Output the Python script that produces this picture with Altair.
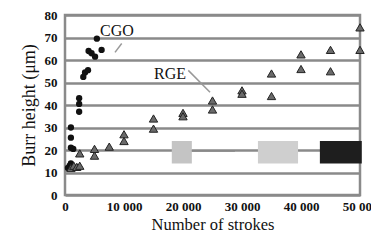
import altair as alt
import pandas as pd

# CGO (circles)
cgo_x = [500, 800, 1000, 1000, 1000, 1000, 1200, 1400, 2400, 2400, 2400, 3100, 3400, 3900, 4000, 4500, 5100, 5400, 6200]
cgo_y = [12, 13, 30, 25.5, 21, 14, 12, 20.5, 43, 40.5, 37, 52.5, 54.5, 55.5, 64, 63, 61.5, 69.5, 64.5]
# RGE (triangles)
rge_x = [1000, 1500, 2000, 2500, 2500, 5000, 5000, 7500, 10000, 10000, 15000, 15000, 20000, 20000,
         25000, 25000, 30000, 30000, 35000, 35000, 40000, 40000, 45000, 45000, 50000, 50000]
rge_y = [12, 13, 12.5, 18.5, 13, 20.5, 17.5, 21.5, 27, 24, 34, 29.5, 36.5, 35,
         42, 38, 46.5, 45, 54, 44, 62.5, 56, 64.5, 55, 74.5, 64.5]

x_ticks = [0, 10000, 20000, 30000, 40000, 50000]
y_ticks = [0, 10, 20, 30, 40, 50, 60, 70, 80]

# inset pictures (approximate grey blocks)
ins_x = [18100, 32700, 43200]
ins_x2 = [21500, 39500, 50300]
ins_y = [14, 14, 14]
ins_y2 = [24, 24, 24]
ins_col = ["#c4c4c4", "#cfcfcf", "#1e1e1e"]

cgo = pd.DataFrame({"x": cgo_x, "y": cgo_y})
rge = pd.DataFrame({"x": rge_x, "y": rge_y})
ins = pd.DataFrame({"x": ins_x, "x2": ins_x2, "y": ins_y, "y2": ins_y2, "c": ins_col})

FONT = "Liberation Serif"
style = dict(labelFont=FONT, labelFontSize=13, labelFontWeight="bold", labelColor="#111",
             titleFont=FONT, titleFontWeight="normal", titleColor="#111")

xs = alt.Scale(domain=[0, 50000], nice=False)
ys = alt.Scale(domain=[0, 80], nice=False)

xaxis = alt.Axis(values=x_ticks, labelExpr="datum.value == 0 ? '0' : replace(format(datum.value, ','), ',', ' ')",
                 title="Number of strokes", grid=False, domain=False, ticks=False, titleFontSize=16.5,
                 labelPadding=5, titlePadding=3, labelFlush=False, **style)
yaxis = alt.Axis(values=y_ticks, title="Burr height (μm)", grid=True, gridColor="#8a8a8a", gridWidth=2.5,
                 domain=False, ticks=False, labelPadding=8, titlePadding=6, titleFontSize=18, **style)

X = lambda: alt.X("x:Q", scale=xs, axis=xaxis)
Y = lambda: alt.Y("y:Q", scale=ys, axis=yaxis)

base_rect = alt.Chart(ins).mark_rect().encode(
    x=X(), x2="x2:Q", y=Y(), y2="y2:Q", color=alt.Color("c:N", scale=None))

inset_line = alt.Chart(pd.DataFrame({"x": [21500], "x2": [28800], "y": [19.6]})).mark_rule(
    color="#888", strokeWidth=1.5).encode(x=X(), x2="x2:Q", y=Y())

dots = alt.Chart(cgo).mark_circle(color="#111", size=40, opacity=1).encode(x=X(), y=Y())

tri = alt.Chart(rge).mark_point(shape="triangle-up", filled=True, color="#6a6a6a", size=70,
                                stroke="#222", strokeWidth=1, opacity=1).encode(x=X(), y=Y())

labels = alt.Chart(pd.DataFrame({"x": [8800, 17800], "y": [73, 54], "t": ["CGO", "RGE"]})).mark_text(
    font=FONT, fontSize=16, color="#111").encode(x=X(), y=Y(), text="t:N")

leaders = alt.Chart(pd.DataFrame({"x": [8475, 20900], "y": [63.4, 55.4], "x2": [9610, 24580], "y2": [67.3, 45.7]})).mark_rule(
    color="#999", strokeWidth=1.5).encode(x=X(), y=Y(), x2="x2:Q", y2="y2:Q")

chart = alt.layer(base_rect, inset_line, leaders, dots, tri, labels).properties(
    width=295, height=180,
    autosize=alt.AutoSizeParams(type="none"),
    padding={"left": 57, "top": 7, "right": 11, "bottom": 40},
    background="white"
).configure_view(stroke="#8a8a8a", strokeWidth=2.5)

chart.save("out.html", embed_options={"renderer": "svg", "actions": False})
